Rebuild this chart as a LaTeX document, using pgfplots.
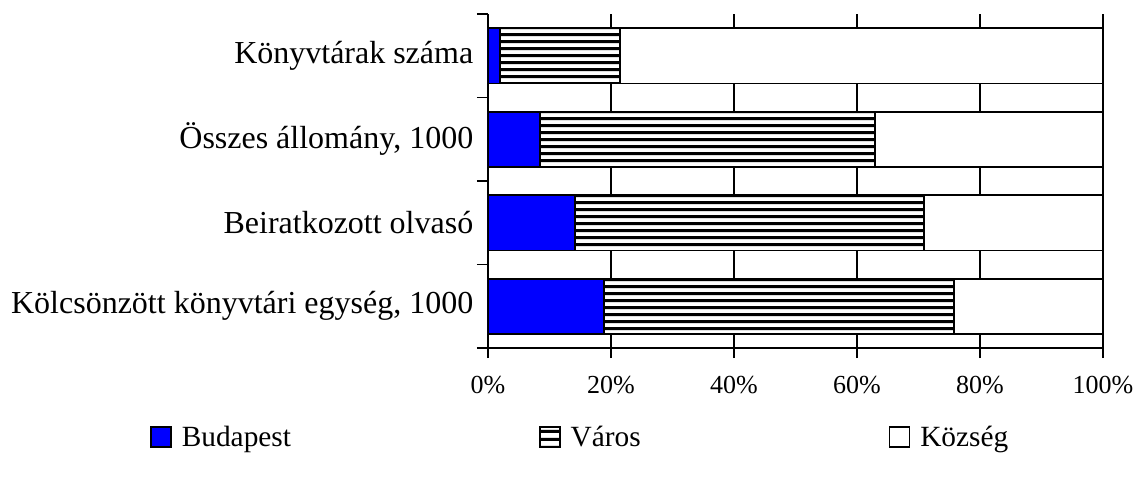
\documentclass[border=0pt]{standalone}
\usepackage{fontspec}
\setmainfont{Liberation Serif}
\usepackage{pgfplots}
\pgfplotsset{compat=1.18}
\usetikzlibrary{patterns}
\pgfdeclarepatternformonly{hlines}{\pgfqpoint{0pt}{0pt}}{\pgfqpoint{5.6pt}{5.6pt}}{\pgfqpoint{5.6pt}{5.6pt}}{%
  \pgfsetlinewidth{2.4pt}%
  \pgfpathmoveto{\pgfqpoint{-1pt}{2.8pt}}%
  \pgfpathlineto{\pgfqpoint{6.6pt}{2.8pt}}%
  \pgfusepath{stroke}}
\begin{document}
\begin{tikzpicture}
\begin{axis}[
  scale only axis, width=461.25pt, height=250.5pt,
  xbar stacked, bar width=0.66,
  xmin=0, xmax=100, ymin=-0.5, ymax=3.5,
  axis lines*=left, axis line style={-, line width=1pt},
  tick align=outside,
  major tick length=7.5pt, minor tick length=8.25pt,
  tick style={black, line width=1pt},
  xtick={0,20,40,60,80,100},
  xticklabels={0\%,20\%,40\%,60\%,80\%,100\%},
  xticklabel style={font=\fontsize{19.5}{23}\selectfont, yshift=-10pt},
  ytick={0,1,2,3},
  yticklabels={{Kölcsönzött könyvtári egység, 1000},{Beiratkozott olvasó},{Összes állomány, 1000},{Könyvtárak száma}},
  yticklabel style={font=\fontsize{24}{29}\selectfont, anchor=east},
  major y tick style={draw=none},
  minor ytick={-0.5,0.5,1.5,2.5,3.5},
  xmajorgrids, grid style={black, line width=1.2pt},
  legend columns=3,
  legend style={draw=none, at={(-0.5496,-0.2665)}, anchor=west, inner sep=0pt,
    font=\fontsize{22}{26}\selectfont,
    /tikz/every odd column/.append style={column sep=5.5pt},
    /tikz/every even column/.append style={column sep=184pt}},
  legend image code/.code={\draw[#1] (0pt,-7.5pt) rectangle (15pt,7.5pt);},
]
\addplot[fill={rgb,255:red,0;green,0;blue,255}, draw=black, line width=1.2pt] coordinates {(18.9,0) (14.1,1) (8.5,2) (2.0,3)};
\addplot[fill=white, draw=black, line width=1.2pt, postaction={pattern=hlines}] coordinates {(56.9,0) (56.8,1) (54.4,2) (19.5,3)};
\addplot[fill=white, draw=black, line width=1.2pt] coordinates {(24.2,0) (29.1,1) (37.1,2) (78.5,3)};
\legend{Budapest, Város, Község}
\end{axis}
\path[use as bounding box] (-366pt,-99pt) rectangle (488.25pt,261pt);
\end{tikzpicture}
\end{document}
